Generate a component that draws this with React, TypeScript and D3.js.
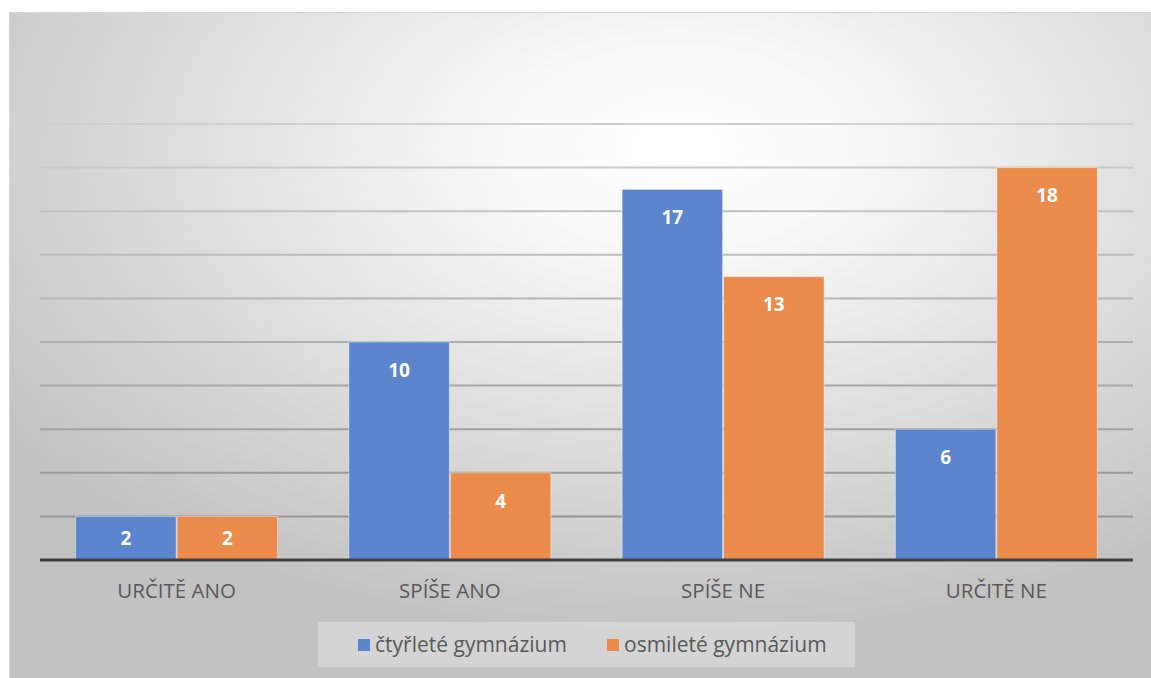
import React from "react";
import * as d3 from "d3";

const categories = ["URČITĚ ANO", "SPÍŠE ANO", "SPÍŠE NE", "URČITĚ NE"];
const seriesNames = ["čtyřleté gymnázium", "osmileté gymnázium"];
const ctyrlete = [2, 10, 17, 6];
const osmilete = [2, 4, 13, 18];
const yTicks = [0, 2, 4, 6, 8, 10, 12, 14, 16, 18, 20];

const W = 1151;
const H = 678;
const colors = ["#5b85cd", "#eb8b4b"];

export default function App() {
  const x0 = d3.scaleBand<string>().domain(categories).range([40, 1133]).paddingInner(0.257).paddingOuter(0.1285);
  const x1 = d3.scaleBand<string>().domain(seriesNames).range([0, x0.bandwidth()]).padding(0);
  const y = d3.scaleLinear().domain([0, 20]).range([560, 124]);
  const series = [ctyrlete, osmilete];
  const gridColor = d3.scaleLinear<string>().domain([20, 0]).range(["#d0d0d0", "#8c8c8c"]);
  const font = "'Open Sans', sans-serif";
  const legendX = [358, 607];

  return (
    <svg width={W} height={H} style={{ position: "absolute", left: 0, top: 0 }}>
      <defs>
        <radialGradient id="bg" cx="0.58" cy="0.2" r="0.72" gradientUnits="objectBoundingBox">
          <stop offset="0" stopColor="#ffffff" />
          <stop offset="0.2" stopColor="#f9f9f9" />
          <stop offset="1" stopColor="#c2c2c2" />
        </radialGradient>
      </defs>
      <rect x={0} y={0} width={W} height={H} fill="#ffffff" />
      <rect x={9.5} y={12.5} width={W} height={H} fill="url(#bg)" stroke="#d4d4d4" strokeWidth={1} />
      {yTicks.slice(1).map((t) => (
        <line key={t} x1={40} x2={1133} y1={y(t)} y2={y(t)} stroke={gridColor(t)} strokeWidth={2} />
      ))}
      {categories.map((c, i) => (
        <g key={c} transform={`translate(${x0(c)},0)`}>
          {seriesNames.map((s, j) => {
            const v = series[j][i];
            const bx = x1(s)!;
            const bw = x1.bandwidth();
            const cy = Math.min(y(v) + 28, (y(v) + y(0)) / 2);
            return (
              <g key={s}>
                <rect x={bx + 0.5} y={y(v)} width={bw - 1} height={y(0) - y(v)} fill={colors[j]} stroke="rgba(255,255,255,0.45)" strokeWidth={1} />
                <text x={bx + bw / 2} y={cy} dy="0.36em" textAnchor="middle" fill="#ffffff" fontFamily={font} fontWeight="bold" fontSize={19}>
                  {v}
                </text>
              </g>
            );
          })}
          <text x={x0.bandwidth() / 2} y={598} textAnchor="middle" fill="#595959" fontFamily={font} fontSize={20.5}>
            {c}
          </text>
        </g>
      ))}
      <line x1={40} x2={1133} y1={y(0)} y2={y(0)} stroke="#404040" strokeWidth={3} />
      <rect x={318} y={622} width={537} height={45} fill="rgba(255,255,255,0.3)" />
      {seriesNames.map((s, j) => {
        const lx = legendX[j];
        return (
          <g key={s}>
            <rect x={lx} y={639} width={12} height={12} fill={colors[j]} />
            <text x={lx + 17} y={652} fill="#595959" fontFamily={font} fontSize={21}>
              {s}
            </text>
          </g>
        );
      })}
    </svg>
  );
}
